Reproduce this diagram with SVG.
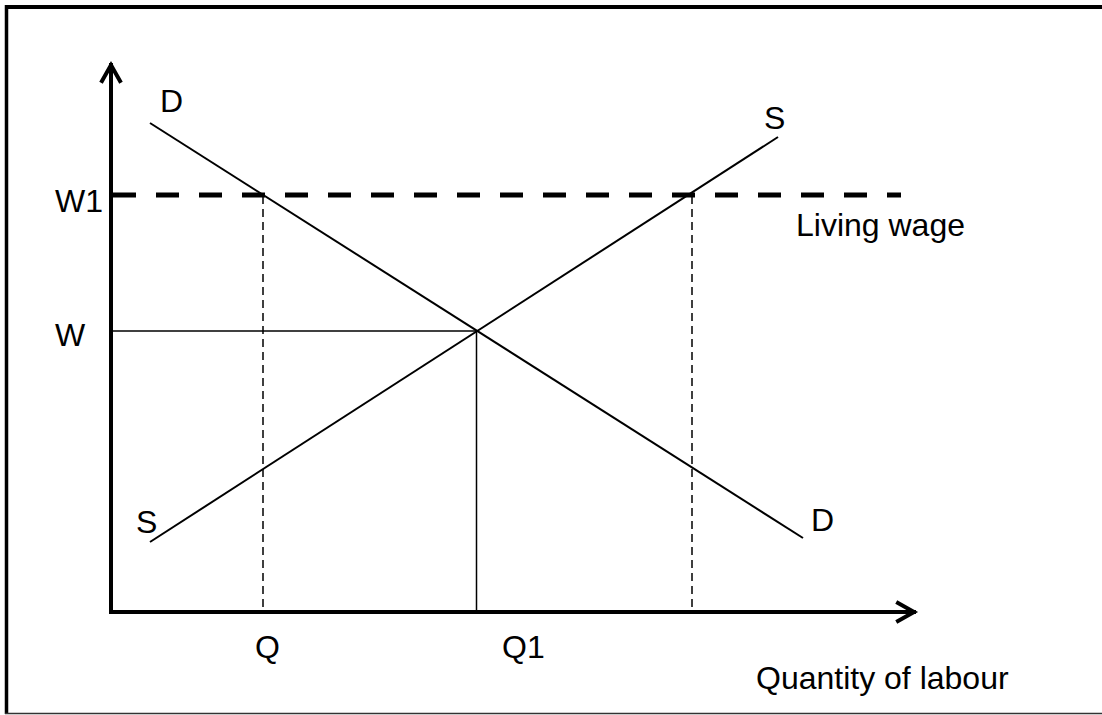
<svg xmlns="http://www.w3.org/2000/svg" width="1102" height="715" viewBox="0 0 1102 715">
<style>
text{font-family:"Liberation Sans",Arial,sans-serif;font-size:32px;fill:#000}
.ax{stroke:#000;stroke-width:4;fill:none;stroke-linecap:square}
.cv{stroke:#000;stroke-width:2;fill:none}
.thin{stroke:#000;stroke-width:1.5;fill:none}
.vd{stroke:#000;stroke-width:1.5;fill:none;stroke-dasharray:8,5}
.lw{stroke:#000;stroke-width:5;fill:none;stroke-dasharray:23,20}
</style>
<rect width="1102" height="715" fill="#fff"/>
<g id="frame">
<line x1="5" y1="7" x2="1102" y2="7" stroke="#000" stroke-width="4"/>
<line x1="6.5" y1="5" x2="6.5" y2="714" stroke="#000" stroke-width="3.5"/>
<line x1="5" y1="713.5" x2="1102" y2="713.5" stroke="#333" stroke-width="1.5"/>
</g>
<g id="connectors">
<line class="ax" x1="111" y1="612" x2="111" y2="65"/>
<polyline class="ax" points="102,81 111,65 120,81" stroke-linecap="round"/>
<line class="ax" x1="111" y1="612" x2="914" y2="612"/>
<polyline class="ax" points="898,603 914,612 898,621" stroke-linecap="round"/>
<line class="lw" x1="113" y1="195" x2="901" y2="195"/>
<line class="cv" x1="150" y1="123" x2="803" y2="538"/>
<line class="cv" x1="150" y1="542" x2="778" y2="137"/>
<line class="thin" x1="111" y1="331" x2="477" y2="331"/>
<line class="thin" x1="476.5" y1="331" x2="476.5" y2="612"/>
<line class="vd" x1="263" y1="196" x2="263" y2="610"/>
<line class="vd" x1="692" y1="196" x2="692" y2="610"/>
</g>
<g id="labels">
<text x="160" y="112">D</text>
<text x="55" y="212">W1</text>
<text x="55" y="346">W</text>
<text x="764" y="129">S</text>
<text x="136" y="533">S</text>
<text x="811" y="531">D</text>
<text x="796" y="236">Living wage</text>
<text x="255" y="658">Q</text>
<text x="502" y="658">Q1</text>
<text x="756" y="689">Quantity of labour</text>
</g>
</svg>
